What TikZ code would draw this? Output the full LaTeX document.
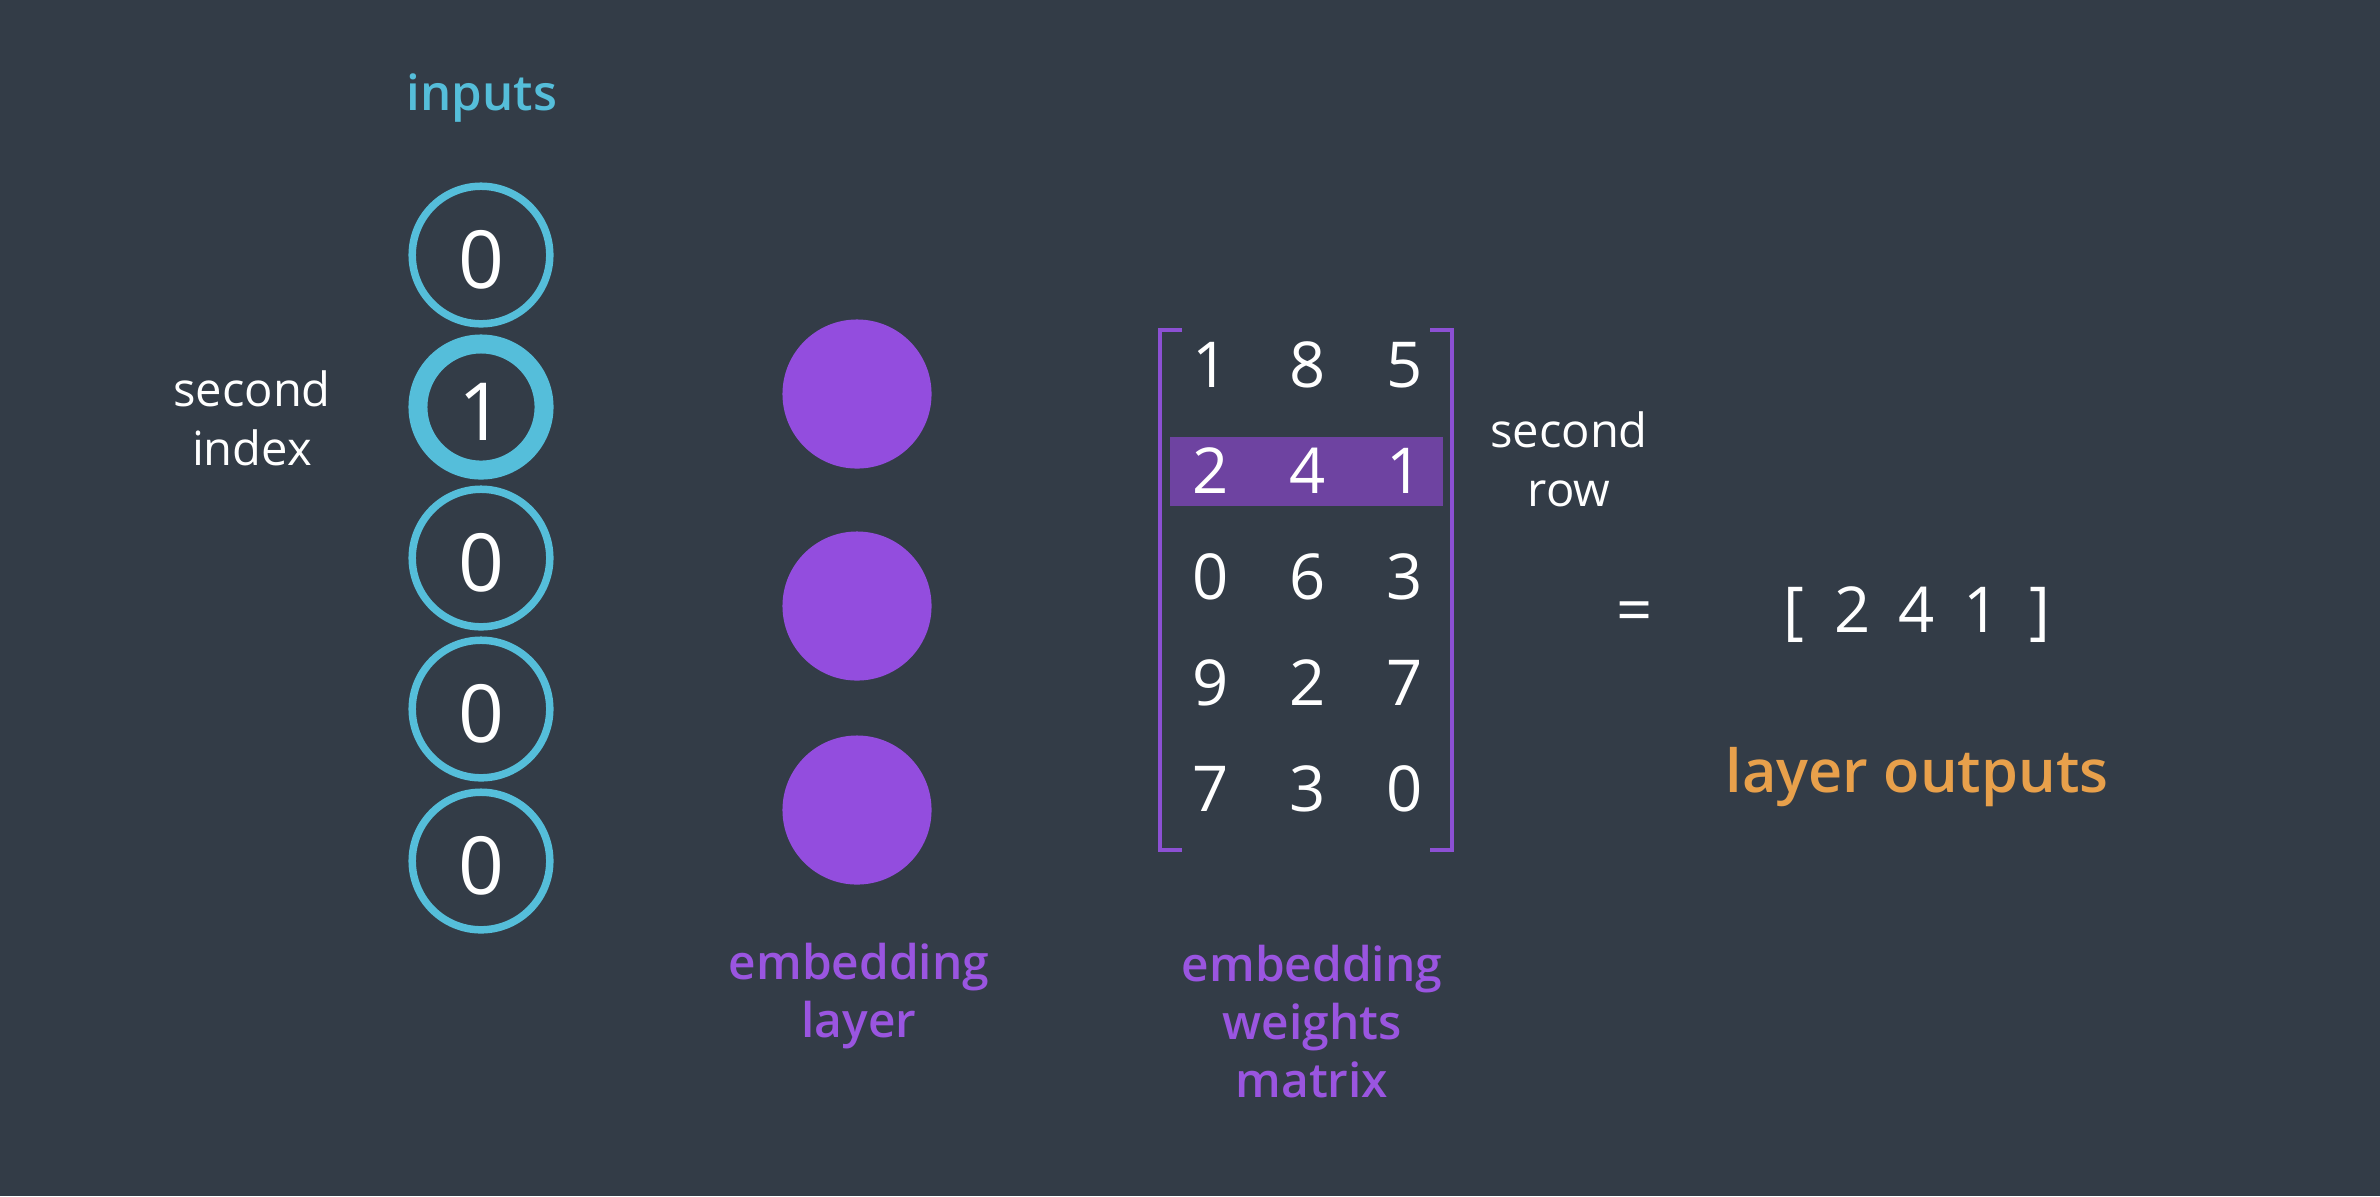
\documentclass[tikz,border=0pt]{standalone}
\usepackage{fontspec}
\setmainfont{Open Sans}
\IfFontExistsTF{Open Sans SemiBold}{\newfontfamily\sbfont{Open Sans SemiBold}}{%
  \IfFontExistsTF{Open Sans Semibold}{\newfontfamily\sbfont{Open Sans Semibold}}{%
    \newfontfamily\sbfont{Open Sans}[FakeBold=1.2]}}
\definecolor{bg}{HTML}{333C47}
\definecolor{cyanc}{HTML}{55BEDA}
\definecolor{purp}{HTML}{934DDE}
\definecolor{hl}{HTML}{6E43A1}
\definecolor{brk}{HTML}{8C50D4}
\definecolor{orng}{HTML}{E8A04B}
\definecolor{ptext}{HTML}{9A55E0}
\begin{document}
\begin{tikzpicture}[x=0.01cm,y=-0.01cm,
  every node/.style={inner sep=0pt, outer sep=0pt},
  inp/.style={circle, draw=cyanc, line width=0.075cm, minimum size=1.375cm,
    text=white, font=\fontsize{22.8}{27}\selectfont, text height=0.66cm, text depth=0cm},
  insel/.style={inp, line width=0.19cm, minimum size=1.26cm},
  emb/.style={circle, fill=purp, minimum size=1.49cm},
  wlabel/.style={text=white, align=center, anchor=base, font=\fontsize{13.4}{16.5}\selectfont},
  plabel/.style={text=ptext, align=center, anchor=base, font=\sbfont\fontsize{13.6}{16.4}\selectfont},
  clabel/.style={text=cyanc, anchor=base, font=\sbfont\fontsize{14}{17}\selectfont},
  olabel/.style={text=orng, anchor=base, font=\sbfont\fontsize{16.9}{20}\selectfont},
  mdig/.style={text=white, anchor=base, font=\fontsize{18}{21}\selectfont},
  bracket/.style={draw=brk, line width=0.04cm}]
% background
\fill[bg] (0,0) rectangle (2380,1196);
\useasboundingbox (0,0) rectangle (2380,1196);

% inputs
\node[clabel] (inputs) at (482,110) {inputs};
\node[inp]   (i1) at (481,255) {0};
\node[insel] (i2) at (481,407) {1};
\node[inp]   (i3) at (481,558) {0};
\node[inp]   (i4) at (481,709) {0};
\node[inp]   (i5) at (481,861) {0};
\node[wlabel] (secidx) at (252,465) {second\\index};

% embedding layer
\node[emb] (e1) at (857,394) {};
\node[emb] (e2) at (857,606) {};
\node[emb] (e3) at (857,810) {};
\node[plabel] (emblabel) at (859,1037) {embedding\\layer};

% weights matrix
\fill[hl] (1170,437) rectangle (1443,506);
\draw[bracket] (1182,330) -- (1160,330) -- (1160,850) -- (1182,850);
\draw[bracket] (1430,330) -- (1452,330) -- (1452,850) -- (1430,850);
\node[mdig] (m11) at (1211,387) {1};
\node[mdig] (m12) at (1308,387) {8};
\node[mdig] (m13) at (1405,387) {5};
\node[mdig] (m21) at (1211,493) {2};
\node[mdig] (m22) at (1308,493) {4};
\node[mdig] (m23) at (1405,493) {1};
\node[mdig] (m31) at (1211,599) {0};
\node[mdig] (m32) at (1308,599) {6};
\node[mdig] (m33) at (1405,599) {3};
\node[mdig] (m41) at (1211,705) {9};
\node[mdig] (m42) at (1308,705) {2};
\node[mdig] (m43) at (1405,705) {7};
\node[mdig] (m51) at (1211,811) {7};
\node[mdig] (m52) at (1308,811) {3};
\node[mdig] (m53) at (1405,811) {0};
\node[wlabel] (secrow) at (1569,506) {second\\row};
\node[plabel] (wlabel) at (1312,1097) {embedding\\weights\\matrix};

% result
\node[mdig] (eq) at (1635,632) {=};
\node[mdig] (out) at (1917,632) {[\hspace{0.30cm}2\hspace{0.28cm}4\hspace{0.28cm}1\hspace{0.30cm}]};
\node[olabel] (outlabel) at (1917,792) {layer outputs};
\end{tikzpicture}
\end{document}
